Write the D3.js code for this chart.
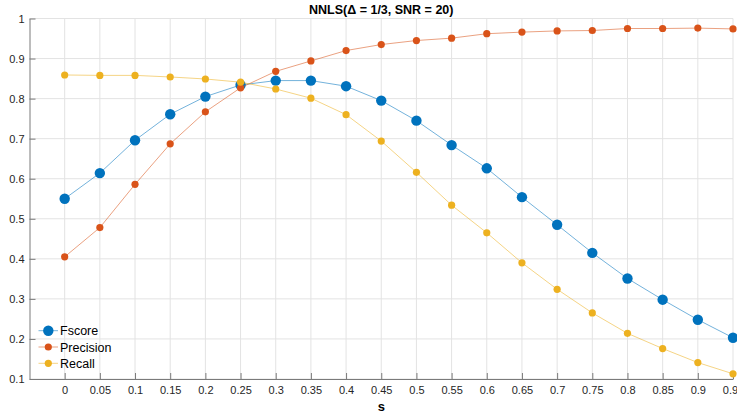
<!DOCTYPE html>
<html>
<head>
<meta charset="utf-8">
<script src="https://cdn.jsdelivr.net/npm/d3@7"></script>
<style>
  html, body { margin: 0; padding: 0; background: #fff; }
  svg { display: block; font-family: "Liberation Sans", Arial, sans-serif; }
</style>
</head>
<body>
<svg id="chart" width="737" height="416"></svg>
<script>
// Sparsity level s
const sValues = [0, 0.05, 0.1, 0.15, 0.2, 0.25, 0.3, 0.35, 0.4, 0.45,
                 0.5, 0.55, 0.6, 0.65, 0.7, 0.75, 0.8, 0.85, 0.9, 0.95];
const fscore = [0.550, 0.614, 0.696, 0.761, 0.805, 0.834, 0.845, 0.845, 0.831, 0.795,
                0.745, 0.684, 0.626, 0.554, 0.485, 0.415, 0.351, 0.298, 0.248, 0.203];
const precision = [0.405, 0.478, 0.586, 0.687, 0.767, 0.827, 0.868, 0.894, 0.920, 0.935,
                   0.945, 0.951, 0.962, 0.966, 0.969, 0.970, 0.975, 0.975, 0.976, 0.974];
const recall = [0.859, 0.858, 0.858, 0.854, 0.849, 0.841, 0.824, 0.801, 0.760, 0.694,
                0.616, 0.534, 0.465, 0.390, 0.324, 0.265, 0.214, 0.176, 0.141, 0.113];
const xTicks = [0, 0.05, 0.1, 0.15, 0.2, 0.25, 0.3, 0.35, 0.4, 0.45,
                0.5, 0.55, 0.6, 0.65, 0.7, 0.75, 0.8, 0.85, 0.9, 0.95];
const yTicks = [0.1, 0.2, 0.3, 0.4, 0.5, 0.6, 0.7, 0.8, 0.9, 1];
const seriesNames = ["Fscore", "Precision", "Recall"];
const seriesColors = ["#0072BD", "#D95319", "#EDB120"];
const markerRadius = [5.2, 3.6, 3.6];

const svg = d3.select("#chart");
const plotLeft = 29.5, plotRight = 733, plotTop = 18.5, plotBottom = 379;

const x = d3.scaleLinear().domain([-0.05, 0.95]).range([plotLeft, plotRight]);
const y = d3.scaleLinear().domain([0.1, 1]).range([plotBottom, plotTop]);

// Grid
const grid = svg.append("g");
grid.selectAll(".gx").data(xTicks).enter().append("line")
  .attr("x1", d => x(d)).attr("x2", d => x(d))
  .attr("y1", plotTop).attr("y2", plotBottom)
  .attr("stroke", "#e3e3e3").attr("stroke-width", 1);
grid.selectAll(".gy").data(yTicks).enter().append("line")
  .attr("x1", plotLeft).attr("x2", plotRight)
  .attr("y1", d => y(d)).attr("y2", d => y(d))
  .attr("stroke", "#e3e3e3").attr("stroke-width", 1);

// Axes with inward ticks
const axisColor = "#7a7a7a";
const xAxis = d3.axisBottom(x).tickValues(xTicks).tickSizeInner(-6).tickSizeOuter(0)
  .tickPadding(7).tickFormat(d => String(+d.toFixed(2)));
const gx = svg.append("g").attr("transform", `translate(0,${plotBottom})`).call(xAxis);
const yAxis = d3.axisLeft(y).tickValues(yTicks).tickSizeInner(-6).tickSizeOuter(0)
  .tickPadding(5).tickFormat(d => String(+d.toFixed(1)));
const gy = svg.append("g").attr("transform", `translate(${plotLeft},0)`).call(yAxis);
[gx, gy].forEach(g => {
  g.select(".domain").attr("stroke", axisColor);
  g.selectAll(".tick line").attr("stroke", axisColor);
  g.selectAll(".tick text").attr("fill", "#262626").attr("font-size", 11)
    .attr("font-family", "Liberation Sans, Arial, sans-serif");
});

// Series
const all = [fscore, precision, recall];
const line = d3.line().x((d, i) => x(sValues[i])).y(d => y(d));
all.forEach((vals, k) => {
  const g = svg.append("g");
  g.append("path").datum(vals).attr("d", line)
    .attr("fill", "none").attr("stroke", seriesColors[k])
    .attr("stroke-width", 1).attr("stroke-opacity", 0.55);
  g.selectAll("circle").data(vals).enter().append("circle")
    .attr("cx", (d, i) => x(sValues[i])).attr("cy", d => y(d))
    .attr("r", markerRadius[k]).attr("fill", seriesColors[k]);
});

// Title and axis label
svg.append("text").attr("x", (plotLeft + plotRight) / 2).attr("y", 14)
  .attr("text-anchor", "middle").attr("font-weight", "bold").attr("font-size", 12.5)
  .attr("fill", "#000").text("NNLS(Δ = 1/3, SNR = 20)");
svg.append("text").attr("x", (plotLeft + plotRight) / 2).attr("y", 411)
  .attr("text-anchor", "middle").attr("font-weight", "bold").attr("font-size", 13)
  .attr("fill", "#000").text("s");

// Legend
const legend = svg.append("g");
seriesNames.forEach((name, k) => {
  const ly = 330.7 + k * 16.3;
  legend.append("line").attr("x1", 38.5).attr("x2", 58).attr("y1", ly).attr("y2", ly)
    .attr("stroke", seriesColors[k]).attr("stroke-opacity", 0.55).attr("stroke-width", 1);
  legend.append("circle").attr("cx", 48.3).attr("cy", ly).attr("r", markerRadius[k])
    .attr("fill", seriesColors[k]);
  legend.append("text").attr("x", 60).attr("y", ly + 4.5).attr("font-size", 12.5)
    .attr("fill", "#000").text(name);
});
</script>
</body>
</html>
